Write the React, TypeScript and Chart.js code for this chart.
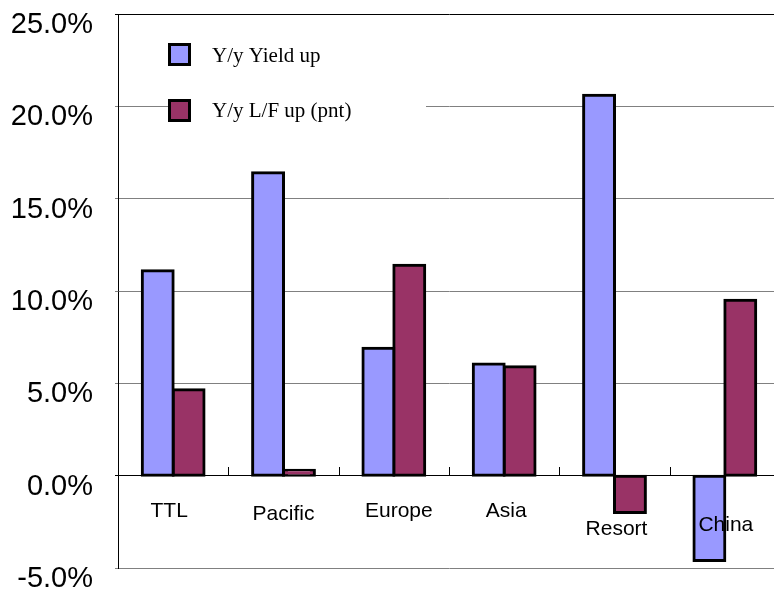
import { useEffect, useRef } from "react";
import { Chart, registerables } from "chart.js";

Chart.register(...registerables);

// Year-over-year change by region
const regions = ["TTL", "Pacific", "Europe", "Asia", "Resort", "China"];
const yieldUp = [11.1, 16.4, 6.9, 6.05, 20.6, -4.6];
const loadFactorUp = [4.65, 0.3, 11.4, 5.9, -2.0, 9.5];
const seriesNames = ["Y/y Yield up", "Y/y L/F up (pnt)"];
const yTickValues = [-5, 0, 5, 10, 15, 20, 25];

const BLUE = "#9999FF";
const PLUM = "#993366";
const SANS = "'Liberation Sans', Arial, sans-serif";
const SERIF = "'Liberation Serif', 'Times New Roman', serif";

// Category label placement below the zero line: [dx, baseline offset]
const labelPlacement: [number, number][] = [
  [-4, 41],
  [0, 44],
  [5, 41],
  [2, 41],
  [2, 59],
  [1, 55],
];

const decorations = {
  id: "decorations",
  afterDatasetsDraw(chart: any) {
    const { ctx, scales } = chart;
    const xs = scales.x;
    const ys = scales.y;
    const y0 = Math.round(ys.getPixelForValue(0));
    ctx.save();

    // Short category dividers standing on the zero line
    ctx.strokeStyle = "#000";
    ctx.lineWidth = 1;
    for (let i = 1; i < regions.length; i++) {
      const px =
        Math.round((xs.getPixelForValue(i - 1) + xs.getPixelForValue(i)) / 2) + 0.5;
      ctx.beginPath();
      ctx.moveTo(px, y0 - 9);
      ctx.lineTo(px, y0);
      ctx.stroke();
    }

    // Category names
    ctx.font = `21px ${SANS}`;
    ctx.fillStyle = "#000";
    ctx.textAlign = "center";
    ctx.textBaseline = "alphabetic";
    regions.forEach((name, i) => {
      const [dx, dy] = labelPlacement[i];
      ctx.fillText(name, xs.getPixelForValue(i) + dx, y0 + dy);
    });

    // Legend panel
    ctx.fillStyle = "#fff";
    ctx.fillRect(191, 30, 235, 108);
    const colors = [BLUE, PLUM];
    const rows = [44, 100];
    const baselines = [62, 117];
    seriesNames.forEach((name, i) => {
      ctx.fillStyle = colors[i];
      ctx.fillRect(169.5, rows[i] + 0.5, 20, 20);
      ctx.strokeStyle = "#000";
      ctx.lineWidth = 3;
      ctx.strokeRect(169.5, rows[i] + 0.5, 20, 20);
      ctx.fillStyle = "#000";
      ctx.font = `21px ${SERIF}`;
      ctx.textAlign = "left";
      ctx.fillText(name, 212, baselines[i]);
    });

    ctx.restore();
  },
};

export default function App() {
  const canvasRef = useRef<HTMLCanvasElement | null>(null);

  useEffect(() => {
    const canvas = canvasRef.current;
    if (!canvas) return;
    const chart = new Chart(canvas, {
      type: "bar",
      data: {
        labels: regions,
        datasets: [
          {
            label: seriesNames[0],
            data: yieldUp,
            backgroundColor: BLUE,
            borderColor: "#000",
            borderWidth: 3,
            borderSkipped: false,
            inflateAmount: 1.5,
          },
          {
            label: seriesNames[1],
            data: loadFactorUp,
            backgroundColor: PLUM,
            borderColor: "#000",
            borderWidth: 3,
            borderSkipped: false,
            inflateAmount: 1.5,
          },
        ],
      },
      options: {
        responsive: false,
        animation: false,
        devicePixelRatio: 1,
        layout: { padding: { top: 14, bottom: 25, left: 0, right: 2 } },
        datasets: {
          bar: { barPercentage: 1, categoryPercentage: 0.56 },
        },
        plugins: {
          legend: { display: false },
          tooltip: { enabled: false },
        },
        scales: {
          x: {
            display: false,
            grid: { display: false },
          },
          y: {
            min: -5,
            max: 25,
            afterBuildTicks: (scale: any) => {
              scale.ticks = yTickValues.map((v) => ({ value: v }));
            },
            afterFit: (scale: any) => {
              scale.width = 118;
              scale.paddingTop = 0;
              scale.paddingBottom = 0;
            },
            ticks: {
              callback: (v: any) => `${Number(v).toFixed(1)}%`,
              font: { family: SANS, size: 29 },
              color: "#000",
              padding: 22,
              labelOffset: 11,
            },
            grid: {
              color: (c: any) =>
                c.tick && (c.tick.value === 0 || c.tick.value === 25)
                  ? "#000"
                  : "#808080",
              lineWidth: 1,
              tickLength: 3,
              drawTicks: true,
            },
            border: { color: "#000", width: 1 },
          },
        },
      },
      plugins: [decorations],
    });
    return () => chart.destroy();
  }, []);

  return (
    <div
      style={{
        position: "fixed",
        left: 0,
        top: 0,
        width: 774,
        height: 593,
        overflow: "hidden",
        background: "#fff",
      }}
    >
      <canvas ref={canvasRef} width={782} height={593} />
    </div>
  );
}
